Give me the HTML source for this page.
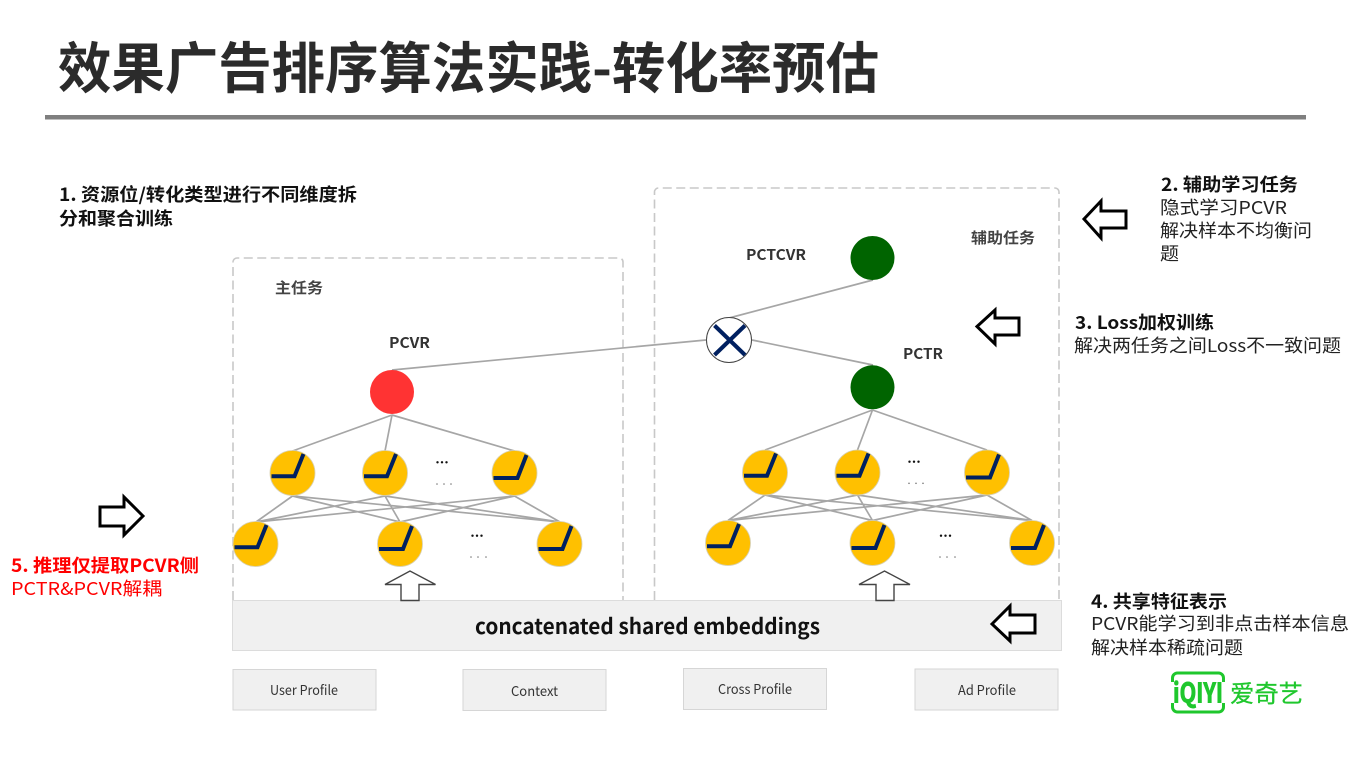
<!DOCTYPE html>
<html><head><meta charset="utf-8"><style>
html,body{margin:0;padding:0;background:#fff;width:1362px;height:763px;overflow:hidden}
svg{display:block}
text{font-family:"Noto Sans CJK SC","Liberation Sans",sans-serif}
.b{font-weight:700}
</style></head><body>
<svg width="1362" height="763" viewBox="0 0 1362 763" xmlns="http://www.w3.org/2000/svg">
<defs>
<g id="n"><circle r="22.5" fill="#ffc000" stroke="#d8d0b0" stroke-width=".8"/><path d="M-21 3.300H2L11-19" fill="none" stroke="#002060" stroke-width="4"/></g>
<g id="nr"><circle r="22.5" fill="#ffc000" stroke="#d8d0b0" stroke-width=".8"/><path d="M-21 5H3L12-18" fill="none" stroke="#002060" stroke-width="4"/></g>
</defs>
<rect width="1362" height="763" fill="#fff"/>

<text class="b" x="58" y="88" font-size="55" fill="#2b2b2b" textLength="821" lengthAdjust="spacingAndGlyphs">效果广告排序算法实践-转化率预估</text>
<rect x="45" y="115" width="1261" height="4.500" fill="#7f7f7f"/>

<text class="b" x="59" y="201" font-size="18" fill="#111" textLength="298" lengthAdjust="spacingAndGlyphs">1. 资源位/转化类型进行不同维度拆</text>
<text class="b" x="59" y="225" font-size="18" fill="#111" textLength="114" lengthAdjust="spacingAndGlyphs">分和聚合训练</text>

<!-- dashed boxes -->
<path d="M233 600V262a4 4 0 0 1 4-4H619a4 4 0 0 1 4 4V600" fill="none" stroke="#c8c8c8" stroke-width="1.600" stroke-dasharray="9 4.500"/>
<path d="M654.500 600V192a4 4 0 0 1 4-4H1055a4 4 0 0 1 4 4V600" fill="none" stroke="#c8c8c8" stroke-width="1.600" stroke-dasharray="9 4.500"/>

<text class="b" x="275" y="293" font-size="15" fill="#444" textLength="48" lengthAdjust="spacingAndGlyphs">主任务</text>
<text class="b" x="971" y="243" font-size="15" fill="#444" textLength="64" lengthAdjust="spacingAndGlyphs">辅助任务</text>
<text class="b" x="389" y="348" font-size="14.500" fill="#333" textLength="41" lengthAdjust="spacingAndGlyphs">PCVR</text>
<text class="b" x="746" y="260" font-size="14.500" fill="#333" textLength="60" lengthAdjust="spacingAndGlyphs">PCTCVR</text>
<text class="b" x="903" y="359" font-size="14.500" fill="#333" textLength="40" lengthAdjust="spacingAndGlyphs">PCTR</text>

<!-- connectors -->
<g stroke="#a6a6a6" stroke-width="1.700" fill="none">
<path d="M392 415L292.500 451M392 415L385 451M392 415L514.500 451"/>
<path d="M292.500 496L256 522M292.500 496L400 522M292.500 496L560 522M385 496L256 522M385 496L400 522M385 496L560 522M514.500 496L256 522M514.500 496L400 522M514.500 496L560 522"/>
<path d="M872.500 410L765 450M872.500 410L857.500 450M872.500 410L987 450"/>
<path d="M765 495L728 520.500M765 495L872.500 520.500M765 495L1032 520.500M857.500 495L728 520.500M857.500 495L872.500 520.500M857.500 495L1032 520.500M987 495L728 520.500M987 495L872.500 520.500M987 495L1032 520.500"/>
<path d="M392 370L706 340M729 318L873 280M752 340L873 365"/>
</g>

<circle cx="392" cy="392" r="22" fill="#ff3333"/>
<circle cx="872.500" cy="258" r="22" fill="#006400"/>
<circle cx="872.500" cy="387.300" r="22" fill="#006400"/>
<circle cx="729" cy="340" r="22.500" fill="#fff" stroke="#444" stroke-width="1"/>
<path d="M714.500 325.500L745 355M745 325.500L714.500 355" stroke="#002060" stroke-width="4" fill="none"/>

<use href="#n" x="292.500" y="473"/><use href="#n" x="385" y="473"/><use href="#nr" x="514.500" y="473"/>
<use href="#n" x="255.500" y="544"/><use href="#nr" x="400" y="544"/><use href="#nr" x="559.500" y="544"/>
<use href="#n" x="765" y="472.500"/><use href="#n" x="857.500" y="472.500"/><use href="#nr" x="987" y="472.500"/>
<use href="#n" x="728" y="543"/><use href="#nr" x="872.500" y="543"/><use href="#nr" x="1032" y="543"/>

<!-- dots -->
<g fill="#111">
<circle cx="437.500" cy="462.300" r="1.200"/><circle cx="442" cy="462.300" r="1.200"/><circle cx="446.500" cy="462.300" r="1.200"/>
<circle cx="472.500" cy="535.700" r="1.200"/><circle cx="477" cy="535.700" r="1.200"/><circle cx="481.500" cy="535.700" r="1.200"/>
<circle cx="909.500" cy="461.700" r="1.200"/><circle cx="914" cy="461.700" r="1.200"/><circle cx="918.500" cy="461.700" r="1.200"/>
<circle cx="941" cy="535.700" r="1.200"/><circle cx="945.500" cy="535.700" r="1.200"/><circle cx="950" cy="535.700" r="1.200"/>
</g>
<g fill="#777">
<circle cx="437" cy="484" r=".8"/><circle cx="444" cy="484" r=".8"/><circle cx="451" cy="484" r=".8"/>
<circle cx="471" cy="557" r=".8"/><circle cx="478" cy="557" r=".8"/><circle cx="486" cy="557" r=".8"/>
<circle cx="909" cy="483.300" r=".8"/><circle cx="916" cy="483.300" r=".8"/><circle cx="923" cy="483.300" r=".8"/>
<circle cx="940" cy="557" r=".8"/><circle cx="947" cy="557" r=".8"/><circle cx="955" cy="557" r=".8"/>
</g>

<!-- shared embeddings -->
<rect x="232.500" y="600.500" width="829" height="50" fill="#f0f0f0" stroke="#dcdcdc"/>
<text class="b" x="475" y="634" font-size="21.500" fill="#111" textLength="345" lengthAdjust="spacingAndGlyphs">concatenated shared embeddings</text>

<!-- up arrows -->
<path d="M385 584.500L410 571L435.500 584.500H419V600.500H401V584.500Z" fill="#fff" stroke="#444" stroke-width="1.400"/>
<path d="M859 584.500L884.500 571L910 584.500H894V600.500H876V584.500Z" fill="#fff" stroke="#444" stroke-width="1.400"/>

<g fill="#f0f0f0" stroke="#d6d6d6" stroke-width="1">
<rect x="233" y="669.500" width="143" height="40.500"/>
<rect x="463" y="669.500" width="143" height="41"/>
<rect x="683.500" y="668.500" width="143" height="41"/>
<rect x="915" y="669" width="143" height="41"/>
</g>
<g font-size="13.500" fill="#333">
<text x="270" y="695" textLength="68" lengthAdjust="spacingAndGlyphs">User Profile</text>
<text x="511" y="696" textLength="47" lengthAdjust="spacingAndGlyphs">Context</text>
<text x="718" y="694" textLength="74" lengthAdjust="spacingAndGlyphs">Cross Profile</text>
<text x="958" y="695" textLength="58" lengthAdjust="spacingAndGlyphs">Ad Profile</text>
</g>

<!-- block arrows -->
<g fill="#fff" stroke="#000" stroke-width="3">
<path d="M1084 219L1101 201V211H1126V228H1101V238Z"/>
<path d="M977 326.500L995 310V318H1019V335H995V344Z"/>
<path d="M992 624L1010 606V615H1035V633H1010V641Z"/>
<path d="M143 516L124 497V507H100V526H124V535Z"/>
</g>

<!-- right annotations -->
<text class="b" x="1161" y="191" font-size="18" fill="#111" textLength="137" lengthAdjust="spacingAndGlyphs">2. 辅助学习任务</text>
<text x="1160" y="214" font-size="18" fill="#222" textLength="127" lengthAdjust="spacingAndGlyphs">隐式学习PCVR</text>
<text x="1160" y="237" font-size="18" fill="#222" textLength="152" lengthAdjust="spacingAndGlyphs">解决样本不均衡问</text>
<text x="1160" y="260" font-size="18" fill="#222" textLength="19" lengthAdjust="spacingAndGlyphs">题</text>

<text class="b" x="1075" y="329" font-size="18" fill="#111" textLength="139" lengthAdjust="spacingAndGlyphs">3. Loss加权训练</text>
<text x="1074" y="352" font-size="18" fill="#222" textLength="267" lengthAdjust="spacingAndGlyphs">解决两任务之间Loss不一致问题</text>

<text class="b" x="1091" y="608" font-size="18" fill="#111" textLength="136" lengthAdjust="spacingAndGlyphs">4. 共享特征表示</text>
<text x="1091" y="630" font-size="18" fill="#222" textLength="258" lengthAdjust="spacingAndGlyphs">PCVR能学习到非点击样本信息</text>
<text x="1091" y="654" font-size="18" fill="#222" textLength="152" lengthAdjust="spacingAndGlyphs">解决样本稀疏问题</text>

<text class="b" x="11" y="572" font-size="18" fill="#ff0000" textLength="188" lengthAdjust="spacingAndGlyphs">5. 推理仅提取PCVR侧</text>
<text x="11" y="595" font-size="18" fill="#ff0000" textLength="151" lengthAdjust="spacingAndGlyphs">PCTR&amp;PCVR解耦</text>

<!-- logo -->
<path d="M1172.500 682V678a5 5 0 0 1 5-5h41a5 5 0 0 1 5 5v4M1172.500 703v4a5 5 0 0 0 5 5h41a5 5 0 0 0 5-5v-4" fill="none" stroke="#1fc72d" stroke-width="3"/>
<text class="b" x="1173" y="702.500" font-size="27" fill="#1fc72d" stroke="#1fc72d" stroke-width=".9" textLength="50" lengthAdjust="spacingAndGlyphs">iQIYI</text>
<text x="1230" y="702" font-size="24" fill="#1fc72d" stroke="#1fc72d" stroke-width=".3" textLength="73" lengthAdjust="spacingAndGlyphs">爱奇艺</text>
</svg>
</body></html>
